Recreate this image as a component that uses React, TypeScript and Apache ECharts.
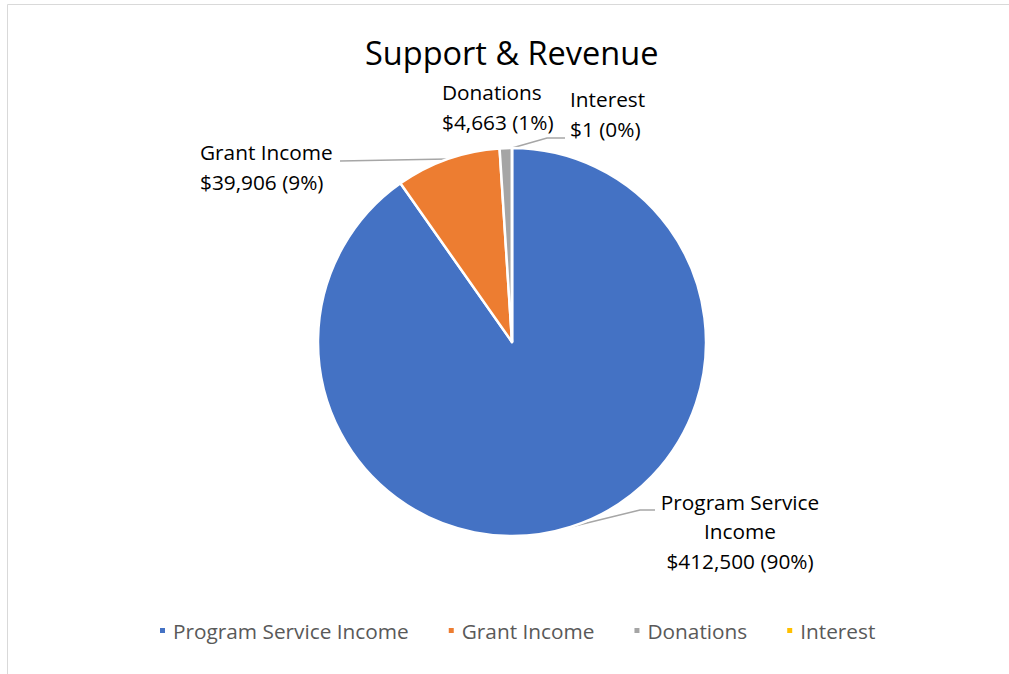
import React, { useEffect, useRef } from "react";
import * as echarts from "echarts";

const categories = ["Program Service Income", "Grant Income", "Donations", "Interest"];
const values = [412500, 39906, 4663, 1];
const colors = ["#4472C4", "#ED7D31", "#A5A5A5", "#FFC000"];
const chartTitle = "Support & Revenue";

// label anchor placement (layout only)
const labelPlacement = [
  { x: 740, y: 531, align: "center", bend: [640, 510], end: [655, 510], line: true },
  { x: 200, y: 167, align: "left", bend: [340, 161], end: [340, 161], line: true },
  { x: 442, y: 107, align: "left", bend: [0, 0], end: [0, 0], line: false },
  { x: 570, y: 114, align: "left", bend: [547, 138], end: [565, 138], line: true },
];

export default function App() {
  const ref = useRef<HTMLDivElement>(null);
  useEffect(() => {
    const chart = echarts.init(ref.current!, null, { renderer: "svg" });
    const font = "Open Sans";
    chart.setOption({
      animation: false,
      backgroundColor: "#ffffff",
      title: {
        text: chartTitle,
        left: 360,
        top: 31,
        textStyle: { fontFamily: font, fontSize: 32.5, fontWeight: "normal", color: "#000000" },
      },
      legend: {
        data: categories,
        left: 153,
        top: 615,
        icon: "rect",
        itemWidth: 7,
        itemHeight: 7,
        itemGap: 38,
        textStyle: { fontFamily: font, fontSize: 20.8, color: "#595959", padding: [0, 0, 0, 2] },
      },
      graphic: [
        {
          type: "rect",
          shape: { x: 7.5, y: 4.5, width: 1100, height: 800 },
          style: { fill: "none", stroke: "#d9d9d9", lineWidth: 1 },
          silent: true,
        },
      ],
      series: [
        {
          type: "pie",
          center: [512, 342],
          radius: 194,
          startAngle: 90,
          clockwise: true,
          percentPrecision: 0,
          itemStyle: { borderColor: "#ffffff", borderWidth: 2.5 },
          label: {
            show: true,
            fontFamily: font,
            fontSize: 20.8,
            lineHeight: 29.5,
            color: "#000000",
            formatter: (p: any) => {
              const name = p.dataIndex === 0 ? p.name.replace(" Income", "\nIncome") : p.name;
              return `${name}\n$${Number(p.value).toLocaleString("en-US")} (${p.percent}%)`;
            },
          },
          labelLine: { show: true, lineStyle: { color: "#a6a6a6", width: 1.5 } },
          labelLayout: (params: any) => {
            const pl = labelPlacement[params.dataIndex];
            const start = params.labelLinePoints ? params.labelLinePoints[0] : [0, 0];
            return {
              x: pl.x,
              y: pl.y,
              align: pl.align,
              verticalAlign: "middle",
              labelLinePoints: pl.line ? [start, pl.bend, pl.end] : [start, start, start],
            };
          },
          data: categories.map((c, i) => ({
            name: c,
            value: values[i],
            itemStyle: { color: colors[i] },
            labelLine: { show: labelPlacement[i].line },
          })),
        },
      ],
    });
    return () => chart.dispose();
  }, []);
  return (
    <div
      ref={ref}
      style={{ position: "absolute", left: 0, top: 0, width: 1009, height: 674 }}
    />
  );
}
